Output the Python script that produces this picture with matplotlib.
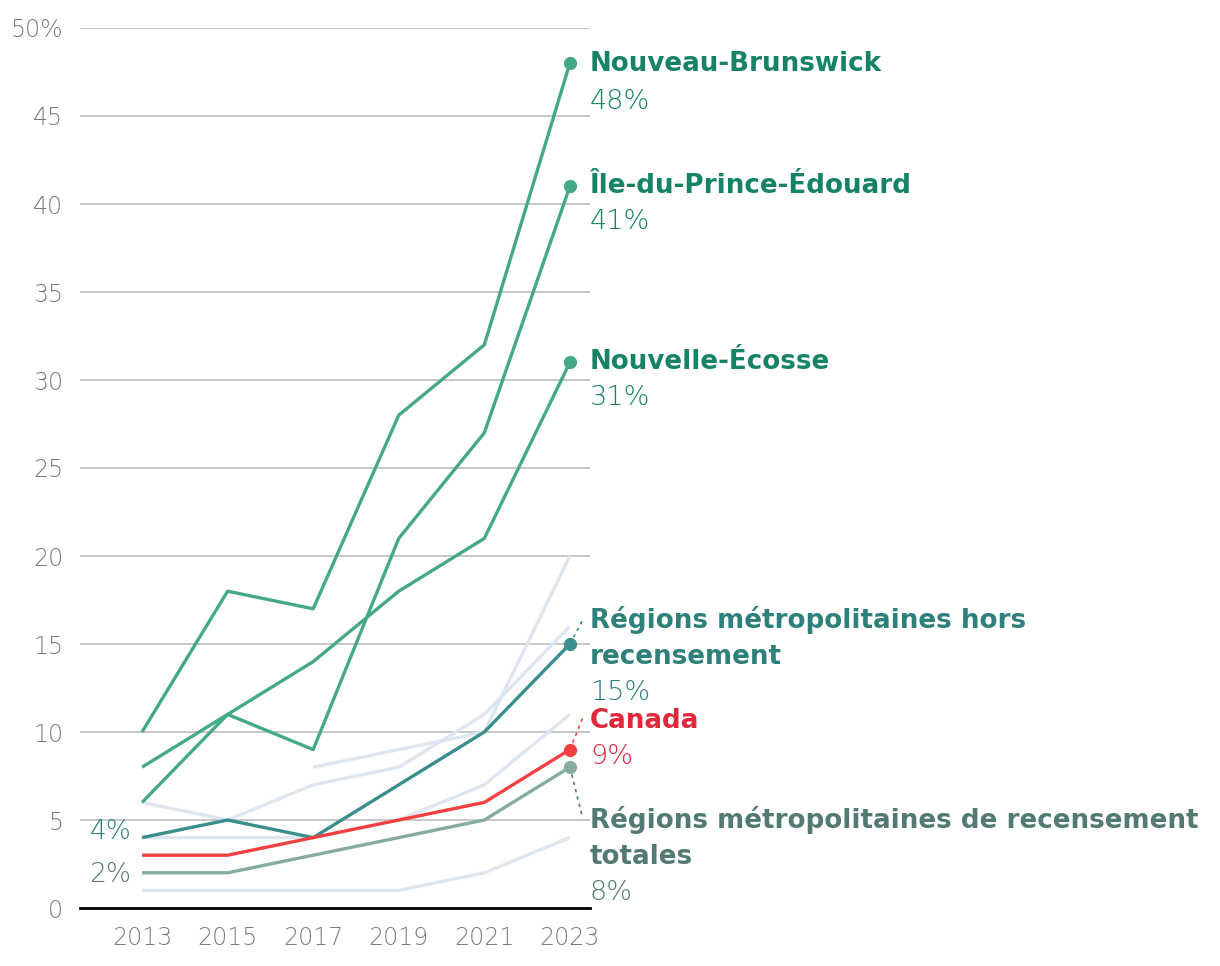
import matplotlib
matplotlib.use("Agg")
import matplotlib.pyplot as plt
import matplotlib.transforms as mtransforms
import numpy as np

years = [2013, 2015, 2017, 2019, 2021, 2023]

# background (light) series
light_a = [6, 5, 7, 8, 11, 16]
light_b = [np.nan, np.nan, 8, 9, 10, 20]
light_c = [4, 4, 4, 5, 7, 11]
light_d = [1, 1, 1, 1, 2, 4]

# highlighted series
nouveau_brunswick = [10, 18, 17, 28, 32, 48]
ile_prince_edouard = [6, 11, 9, 21, 27, 41]
nouvelle_ecosse = [8, 11, 14, 18, 21, 31]
rm_hors = [4, 5, 4, 7, 10, 15]
canada = [3, 3, 4, 5, 6, 9]
rmr_totales = [2, 2, 3, 4, 5, 8]

names = ["Nouveau-Brunswick", "Île-du-Prince-Édouard", "Nouvelle-Écosse",
         "Régions métropolitaines hors\nrecensement", "Canada",
         "Régions métropolitaines de recensement\ntotales"]

yticks = [0, 5, 10, 15, 20, 25, 30, 35, 40, 45, 50]
ytick_labels = ["0", "5", "10", "15", "20", "25", "30", "35", "40", "45", "50%"]

plt.rcParams['font.family'] = ['DejaVu Sans']

fig = plt.figure(figsize=(12.2, 9.66), dpi=100)
ax = fig.add_axes([80/1220, 58/966, 510/1220, 880/966])
ax.set_xlim(2011.55, 2023.47)
ax.set_ylim(0, 50)

LIGHT = "#dde6f0"
for s in [light_a, light_b, light_c, light_d]:
    ax.plot(years, s, color=LIGHT, lw=2.4, zorder=2, solid_capstyle='butt')

GREEN = "#45a987"
GREEN_T = "#168464"
TEAL = "#3a8f8c"
TEAL_T = "#2e807a"
RED = "#f44040"
RED_T = "#e0283a"
GRAY = "#86ac9f"
GRAY_T = "#537a72"

series = [
    (nouveau_brunswick, GREEN, GREEN_T),
    (ile_prince_edouard, GREEN, GREEN_T),
    (nouvelle_ecosse, GREEN, GREEN_T),
    (rm_hors, TEAL, TEAL_T),
    (canada, RED, RED_T),
    (rmr_totales, GRAY, GRAY_T),
]
z = [5, 5, 5, 7, 8, 6]
for (s, c, ct), zz in zip(series, z):
    ax.plot(years, s, color=c, lw=2.4, zorder=zz, solid_capstyle='butt')
    ax.plot([years[-1]], [s[-1]], 'o', color=c, ms=8.5, zorder=zz + 1, clip_on=False)

# grid
for t in yticks[1:]:
    ax.axhline(t, color="#bdbdbd", lw=1.2, zorder=1)
for sp in ["top", "right", "left"]:
    ax.spines[sp].set_visible(False)
ax.spines["bottom"].set_color("black")
ax.spines["bottom"].set_linewidth(2)
ax.spines["bottom"].set_zorder(10)

ax.set_yticks(yticks)
ax.set_yticklabels(ytick_labels)
ax.set_xticks(years)
ax.set_xticklabels([str(y) for y in years])
ax.tick_params(axis='both', length=0, labelsize=17, labelcolor="#7a7a7a")
ax.tick_params(axis='y', pad=12)
ax.tick_params(axis='x', pad=13)
for lab in ax.get_xticklabels() + ax.get_yticklabels():
    lab.set_fontweight('light')

# right-side labels
trans = mtransforms.blended_transform_factory(ax.transAxes, ax.transData)
label_pos = [47.95, 41.0, 31.0, 16.36, 10.6, 5.0]
value_pos = [45.85, 38.98, 28.98, 12.27, 8.6, 0.9]
for (s, c, ct), name, ly, vy in zip(series, names, label_pos, value_pos):
    lines = name.split("\n")
    for i, ln in enumerate(lines):
        ax.text(1.0, ly - i * 2.1, ln, transform=trans, ha='left', va='center',
                fontsize=18.8, fontweight='bold', color=ct, clip_on=False)
    ax.text(1.0, vy, f"{s[-1]}%", transform=trans, ha='left', va='center',
            fontsize=19.5, fontweight='light', color=ct, clip_on=False)

# dotted connectors
conn = [(rm_hors, TEAL, 16.36), (canada, RED, 10.8), (rmr_totales, GRAY_T, 5.1)]
for s, c, ty in conn:
    ax.plot([years[-1], 2023.3], [s[-1], ty], color=c, lw=1.2, ls=(0, (2, 2.5)),
            zorder=4, clip_on=False)

# left labels
ax.text(2012.75, 4.35, f"{rm_hors[0]}%", ha='right', va='center', fontsize=19,
        fontweight='light', color=TEAL_T)
ax.text(2012.75, 1.9, f"{rmr_totales[0]}%", ha='right', va='center', fontsize=19,
        fontweight='light', color=GRAY_T)

fig.savefig("out.png", dpi=100)
